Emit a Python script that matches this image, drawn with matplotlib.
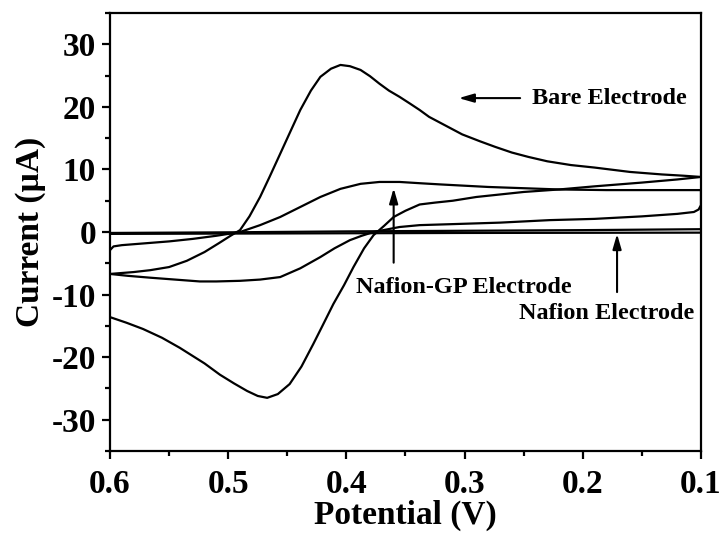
import matplotlib
matplotlib.use("Agg")
import matplotlib.pyplot as plt
from matplotlib.ticker import MultipleLocator

plt.rcParams['font.family'] = ['Liberation Serif', 'DejaVu Serif']
plt.rcParams['font.weight'] = 'bold'

# ---------------- data (potential in V, current in uA) ----------------
bare_up_v = [0.600, 0.580, 0.566, 0.550, 0.535, 0.520, 0.508, 0.498, 0.490, 0.482, 0.473,
             0.465, 0.456, 0.448, 0.439, 0.430, 0.422, 0.413, 0.405, 0.397, 0.388, 0.380,
             0.372, 0.364, 0.355, 0.346, 0.338, 0.330, 0.315, 0.302, 0.287, 0.274,
             0.260, 0.246, 0.230, 0.210, 0.190, 0.160, 0.133, 0.115, 0.100]
bare_up_i = [-6.7, -6.4, -6.1, -5.6, -4.6, -3.2, -1.8, -0.6, 0.3, 2.5, 5.6,
             8.8, 12.5, 15.8, 19.5, 22.6, 24.8, 26.1, 26.7, 26.5, 25.9, 24.9,
             23.7, 22.6, 21.6, 20.5, 19.5, 18.4, 16.9, 15.6, 14.5, 13.6,
             12.7, 12.0, 11.3, 10.7, 10.3, 9.6, 9.2, 9.0, 8.8]

bare_dn_v = [0.100, 0.120, 0.150, 0.190, 0.220, 0.250, 0.270, 0.290, 0.310, 0.325, 0.338,
             0.350, 0.360, 0.368, 0.377, 0.385, 0.394, 0.402, 0.411, 0.420, 0.428, 0.438,
             0.448, 0.458, 0.467, 0.475, 0.484, 0.495, 0.507, 0.520, 0.541, 0.556, 0.572,
             0.586, 0.600]
bare_dn_i = [8.8, 8.4, 7.9, 7.3, 6.8, 6.4, 6.0, 5.6, 5.0, 4.7, 4.4,
             3.4, 2.4, 1.0, -0.5, -2.6, -5.6, -8.5, -11.5, -14.9, -17.9, -21.5,
             -24.3, -25.9, -26.5, -26.2, -25.4, -24.2, -22.8, -21.0, -18.5, -16.9, -15.5,
             -14.5, -13.6]

gp_up_v = [0.600, 0.597, 0.590, 0.570, 0.550, 0.530, 0.510, 0.490, 0.473, 0.456, 0.439,
           0.422, 0.405, 0.388, 0.372, 0.355, 0.338, 0.320, 0.300, 0.280,
           0.250, 0.220, 0.180, 0.140, 0.100]
gp_up_i = [-2.9, -2.3, -2.1, -1.8, -1.5, -1.1, -0.6, 0.0, 1.1, 2.4, 4.0,
           5.6, 6.9, 7.7, 8.0, 8.0, 7.8, 7.6, 7.4, 7.2,
           7.0, 6.8, 6.7, 6.7, 6.7]

gp_dn_v = [0.100, 0.100, 0.102, 0.106, 0.120, 0.150, 0.190, 0.228, 0.270, 0.312, 0.338,
           0.355, 0.366, 0.377, 0.387, 0.397, 0.410, 0.422, 0.439, 0.456, 0.473, 0.490,
           0.510, 0.524, 0.545, 0.566, 0.585, 0.600]
gp_dn_i = [6.7, 4.3, 3.6, 3.2, 2.9, 2.5, 2.1, 1.9, 1.5, 1.25, 1.1,
           0.8, 0.4, 0.0, -0.6, -1.3, -2.6, -4.0, -5.8, -7.2, -7.6, -7.8,
           -7.9, -7.9, -7.6, -7.3, -7.0, -6.7]

naf_up_v = [0.600, 0.500, 0.400, 0.300, 0.200, 0.100]
naf_up_i = [-0.15, -0.05, 0.10, 0.20, 0.30, 0.45]
naf_dn_v = [0.100, 0.300, 0.500, 0.600]
naf_dn_i = [-0.10, -0.15, -0.25, -0.30]

x_ticks = [0.6, 0.5, 0.4, 0.3, 0.2, 0.1]
x_labels = ['0.6', '0.5', '0.4', '0.3', '0.2', '0.1']
y_ticks = [-30, -20, -10, 0, 10, 20, 30]
y_labels = ['-30', '-20', '-10', '0', '10', '20', '30']

# ---------------- figure ----------------
fig = plt.figure(figsize=(7.24, 5.33), dpi=100)
ax = fig.add_axes([0.1519, 0.1538, 0.8163, 0.8218])

lw = 1.6
for v, i in [(bare_up_v, bare_up_i), (bare_dn_v, bare_dn_i),
             (gp_up_v, gp_up_i), (gp_dn_v, gp_dn_i),
             (naf_up_v, naf_up_i), (naf_dn_v, naf_dn_i)]:
    ax.plot(v, i, color='black', lw=lw, solid_joinstyle='round')

ax.set_xlim(0.6, 0.1)
ax.set_ylim(-35, 35)
ax.set_xticks(x_ticks)
ax.set_xticklabels(x_labels)
ax.set_yticks(y_ticks)
ax.set_yticklabels(y_labels)
ax.xaxis.set_minor_locator(MultipleLocator(0.05))
ax.yaxis.set_minor_locator(MultipleLocator(5))

for s in ax.spines.values():
    s.set_linewidth(1.6)
ax.tick_params(which='both', direction='out', top=False, right=False, width=1.6)
ax.tick_params(which='major', length=6, labelsize=24, pad=4)
ax.tick_params(axis='x', which='major', pad=7)
ax.tick_params(which='minor', length=3.5)
for lab in ax.get_xticklabels() + ax.get_yticklabels():
    lab.set_fontweight('bold')

ax.set_xlabel('Potential (V)', fontsize=24, fontweight='bold', labelpad=0)
ax.set_ylabel('Current (\u00b5A)', fontsize=24, fontweight='bold', labelpad=4)

arrow_style = dict(arrowstyle='-|>,head_length=0.45,head_width=0.13', lw=1.5,
                   color='black', shrinkA=0, shrinkB=0, mutation_scale=20)
fs_ann = 17.5

# Bare electrode
ax.annotate('', xy=(0.305, 21.4), xytext=(0.253, 21.4), arrowprops=arrow_style)
ax.text(0.243, 21.4, 'Bare Electrode', fontsize=fs_ann, fontweight='bold',
        ha='left', va='center')

# Nafion-GP electrode
ax.annotate('', xy=(0.360, 7.0), xytext=(0.360, -4.9), arrowprops=arrow_style)
ax.text(0.301, -8.8, 'Nafion-GP Electrode', fontsize=fs_ann, fontweight='bold',
        ha='center', va='center')

# Nafion electrode
ax.annotate('', xy=(0.171, -0.3), xytext=(0.171, -9.6), arrowprops=arrow_style)
ax.text(0.106, -13.1, 'Nafion Electrode', fontsize=fs_ann, fontweight='bold',
        ha='right', va='center')

fig.savefig('out.png', dpi=100)
